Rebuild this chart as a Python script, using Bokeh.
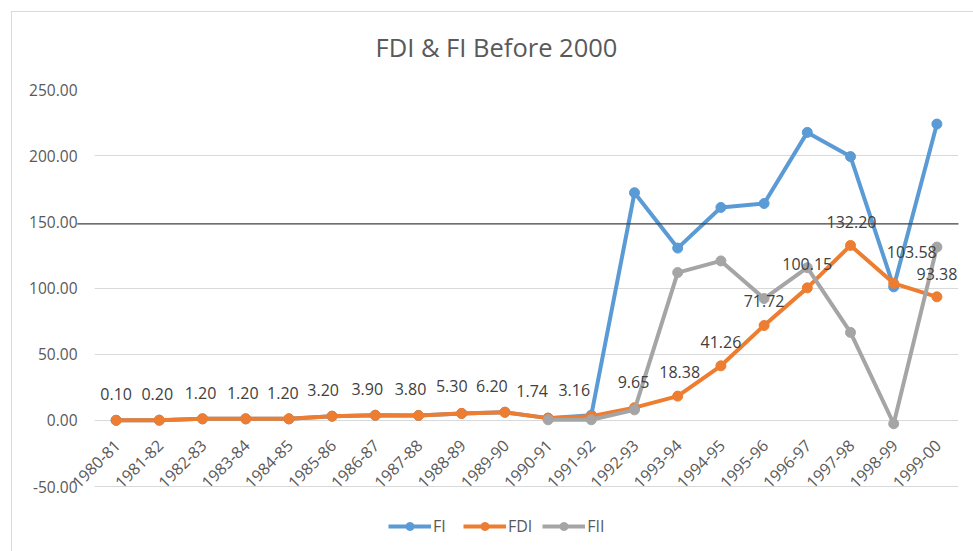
import math
from bokeh.plotting import figure
from bokeh.models import (ColumnDataSource, FactorRange, FixedTicker,
                          NumeralTickFormatter, Legend, LegendItem)
from bokeh.core.properties import value
from bokeh.embed import file_html
from bokeh.resources import INLINE

NaN = float("nan")

years = ["1980-81", "1981-82", "1982-83", "1983-84", "1984-85", "1985-86",
         "1986-87", "1987-88", "1988-89", "1989-90", "1990-91", "1991-92",
         "1992-93", "1993-94", "1994-95", "1995-96", "1996-97", "1997-98",
         "1998-99", "1999-00"]

fi = [0.10, 0.20, 1.20, 1.20, 1.20, 3.20, 3.90, 3.80, 5.30, 6.20,
      1.74, 4.0, 172.0, 130.2, 160.9, 163.9, 217.6, 199.3, 100.9, 223.9]

fdi = [0.10, 0.20, 1.20, 1.20, 1.20, 3.20, 3.90, 3.80, 5.30, 6.20,
       1.74, 3.16, 9.65, 18.38, 41.26, 71.72, 100.15, 132.20, 103.58, 93.38]

fii = [NaN, NaN, NaN, NaN, NaN, NaN, NaN, NaN, NaN, NaN,
       0.5, 0.5, 8.0, 111.7, 120.5, 92.1, 115.4, 66.5, -2.5, 131.0]

y_ticks = [-50, 0, 50, 100, 150, 200, 250]
grid_ticks = [-50, 0, 50, 100, 200, 250]

# label placement tweaks (screen pixels) for the FDI data labels
lbl_dx = [0, -2, -2, -3, -6, -9, -8, -8, -10, -13, -16, -17, -1, 2, 0, 0, 0, 1, 18, 0]
lbl_dy = [-26, -26, -26, -26, -26, -26, -26, -26, -27, -26, -27, -26, -26,
          -24, -24, -25, -24, -23, -31, -23]

BLUE = "#5B9BD5"
ORANGE = "#ED7D31"
GRAY = "#A5A5A5"
TXT = "#595959"
FONT = "Open Sans"

src = ColumnDataSource(dict(
    year=years, fi=fi, fdi=fdi, fii=fii,
    lbl=["%.2f" % v for v in fdi], dx=lbl_dx, dy=lbl_dy,
))

# the frame reaches below the -50 line so that the legend sits inside it
p = figure(width=962, height=546, x_range=FactorRange(factors=years),
           y_range=(-94.47, 250), output_backend="svg", toolbar_location=None,
           min_border_left=83, min_border_right=15, min_border_top=83,
           min_border_bottom=6)
p.margin = (5, 0, 0, 11)
p.border_fill_color = None
p.background_fill_color = None
# chart-area border (top and left edges), drawn behind the transparent canvas
p.styles = {"background": ("linear-gradient(#d9d9d9,#d9d9d9) 0 6px / 100% 1px no-repeat, "
                           "linear-gradient(#d9d9d9,#d9d9d9) 0 6px / 1px 100% no-repeat, "
                           "#ffffff")}

p.title.text = "FDI & FI Before 2000"
p.title.align = "left"
p.title.offset = 281
p.title.vertical_align = "top"
p.title.text_font = FONT
p.title.text_font_size = "25.5px"
p.title.text_font_style = "normal"
p.title.text_color = TXT
p.title.standoff = 48

p.outline_line_color = None
p.xgrid.grid_line_color = None
p.ygrid.ticker = FixedTicker(ticks=grid_ticks)
p.ygrid.grid_line_color = "#D9D9D9"
p.ygrid.grid_line_width = 1
p.xaxis.visible = False

ya = p.yaxis[0]
ya.ticker = FixedTicker(ticks=y_ticks)
ya.formatter = NumeralTickFormatter(format="0.00")
ya.axis_line_color = None
ya.major_tick_line_color = None
ya.minor_tick_line_color = None
ya.major_label_standoff = 11
ya.major_label_text_font = FONT
ya.major_label_text_font_size = "15.5px"
ya.major_label_text_color = TXT

# dark horizontal line drawn near 150
p.segment(x0=-0.4, x1=20, y0=148.5, y1=148.5, line_color="#404040",
          line_width=1.4, level="overlay")

l1 = p.line("year", "fi", source=src, line_color=BLUE, line_width=4)
s1 = p.scatter("year", "fi", source=src, size=10, fill_color=BLUE, line_color=BLUE)
l2 = p.line("year", "fdi", source=src, line_color=ORANGE, line_width=4)
s2 = p.scatter("year", "fdi", source=src, size=10, fill_color=ORANGE, line_color=ORANGE)
l3 = p.line("year", "fii", source=src, line_color=GRAY, line_width=4)
s3 = p.scatter("year", "fii", source=src, size=10, fill_color=GRAY, line_color=GRAY)

# category labels below the zero line, rotated
p.text(x="year", y=0, text="year", source=src, angle=math.pi / 4,
       text_align="right", text_baseline="middle", x_offset=1, y_offset=22,
       text_font=value(FONT), text_font_size="16px", text_color=TXT,
       level="overlay")

# FDI data labels
p.text(x="year", y="fdi", text="lbl", source=src, x_offset="dx", y_offset="dy",
       text_align="center", text_baseline="middle", text_font=value(FONT),
       text_font_size="16px", text_color="#404040", level="overlay")

legend = Legend(items=[LegendItem(label="FI", renderers=[l1, s1]),
                       LegendItem(label="FDI", renderers=[l2, s2]),
                       LegendItem(label="FII", renderers=[l3, s3])],
                orientation="horizontal", location=(294, 8),
                glyph_width=43, glyph_height=20, label_standoff=2, spacing=10,
                padding=0, margin=0, border_line_color=None,
                background_fill_alpha=0, label_text_font=FONT,
                label_text_font_size="16px", label_text_color=TXT)
p.add_layout(legend)

open("out.html", "w").write(file_html(p, INLINE))
